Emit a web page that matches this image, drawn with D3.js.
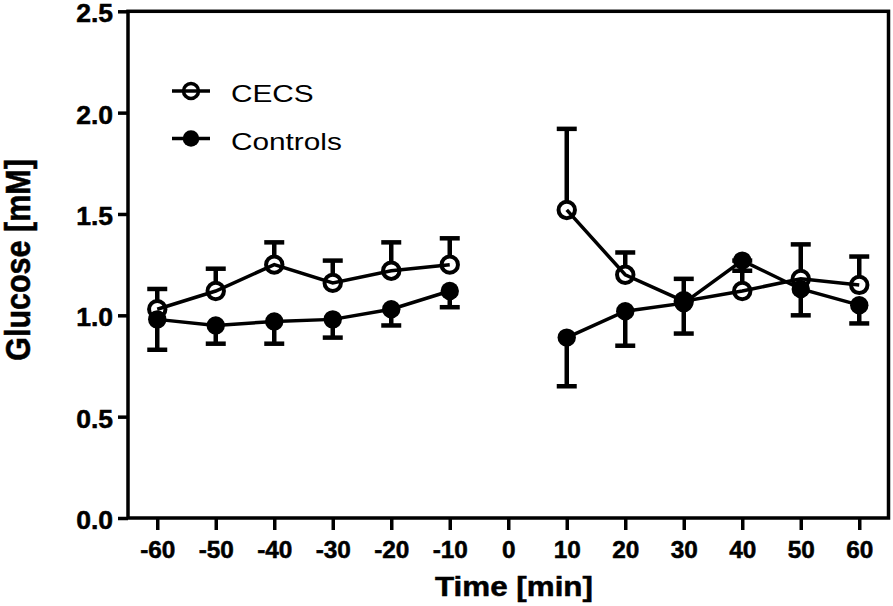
<!DOCTYPE html>
<html>
<head>
<meta charset="utf-8">
<script src="https://cdn.jsdelivr.net/npm/d3@7"></script>
<style>
	html, body { margin: 0; padding: 0; background: #fff; }
	svg { display: block; font-family: 'Liberation Sans', Arial, Helvetica, sans-serif; }
</style>
</head>
<body>
<svg id="chart" width="893" height="606"></svg>
<script>
// data
const times = [-60, -50, -40, -30, -20, -10, 10, 20, 30, 40, 50, 60];
const cecsMean = [1.03, 1.12, 1.25, 1.16, 1.22, 1.25, 1.52, 1.20, 1.07, 1.12, 1.18, 1.15];
const cecsErr = [0.10, 0.11, 0.11, 0.11, 0.14, 0.13, 0.40, 0.11, 0.11, 0.15, 0.17, 0.14]; // drawn upward
const controlsMean = [0.98, 0.95, 0.97, 0.98, 1.03, 1.12, 0.89, 1.02, 1.06, 1.27, 1.13, 1.05];
const controlsErr = [0.15, 0.09, 0.11, 0.09, 0.08, 0.08, 0.24, 0.17, 0.15, 0.05, 0.13, 0.09]; // drawn downward
const xTicks = [-60, -50, -40, -30, -20, -10, 0, 10, 20, 30, 40, 50, 60];
const yTicks = [0.0, 0.5, 1.0, 1.5, 2.0, 2.5];
const seriesNames = ['CECS', 'Controls'];

const svg = d3.select('#chart');
const plotLeft = 128, plotRight = 888.5, plotTop = 11.3, plotBottom = 518;

const xScale = d3.scaleLinear().domain([-65, 65]).range([plotLeft, plotRight]);
const yScale = d3.scaleLinear().domain([0, 2.5]).range([plotBottom, plotTop]);

// widen text the way the original font is drawn
function stretch(sel, k) {
	sel.each(function () {
		const w = this.getComputedTextLength();
		d3.select(this).attr('textLength', w * k).attr('lengthAdjust', 'spacingAndGlyphs');
	});
}

svg.append('rect').attr('width', 893).attr('height', 606).attr('fill', '#fff');

// frame
svg.append('rect')
	.attr('x', plotLeft).attr('y', plotTop)
	.attr('width', plotRight - plotLeft).attr('height', plotBottom - plotTop)
	.attr('fill', 'none').attr('stroke', '#000').attr('stroke-width', 3.5);

// x axis
const xAxis = d3.axisBottom(xScale).tickValues(xTicks).tickSize(12).tickPadding(12).tickFormat(d => String(d));
const gx = svg.append('g').attr('transform', `translate(0,${plotBottom})`).call(xAxis);
gx.select('.domain').remove();
gx.selectAll('.tick line').attr('stroke', '#000').attr('stroke-width', 3.5);
gx.selectAll('.tick text')
	.attr('fill', '#000')
	.attr('stroke', '#000').attr('stroke-width', 0.5)
	.style('font-size', '23px')
	.style('font-weight', 'bold')
	.attr('dy', '0.71em')
	.call(stretch, 1.06);

// y axis
const yAxis = d3.axisLeft(yScale).tickValues(yTicks).tickSize(10).tickPadding(5).tickFormat(d3.format('.1f'));
const gy = svg.append('g').attr('transform', `translate(${plotLeft},0)`).call(yAxis);
gy.select('.domain').remove();
gy.selectAll('.tick line').attr('stroke', '#000').attr('stroke-width', 3.5);
gy.selectAll('.tick text')
	.attr('fill', '#000')
	.attr('stroke', '#000').attr('stroke-width', 0.5)
	.style('font-size', '25.5px')
	.style('font-weight', 'bold')
	.attr('dy', '0.41em')
	.call(stretch, 1.04);

// axis titles
svg.append('text')
	.attr('x', 514).attr('y', 596)
	.attr('text-anchor', 'middle')
	.attr('stroke', '#000').attr('stroke-width', 0.5)
	.style('font-size', '27.5px').style('font-weight', 'bold')
	.text('Time [min]')
	.call(stretch, 1.14);

svg.append('text')
	.attr('transform', 'translate(30,260) scale(1.12,1) rotate(-90)')
	.attr('text-anchor', 'middle')
	.attr('stroke', '#000').attr('stroke-width', 0.5)
	.style('font-size', '30.5px').style('font-weight', 'bold')
	.text('Glucose [mM]');

// series
const cecs = times.map((t, i) => ({ t, v: cecsMean[i], e: cecsErr[i] }));
const controls = times.map((t, i) => ({ t, v: controlsMean[i], e: -controlsErr[i] }));

const line = d3.line().x(d => xScale(d.t)).y(d => yScale(d.v));
const r = 8.2;

function drawSeries(data, filled) {
	const g = svg.append('g');
	// before and after time 0 are separate segments
	d3.groups(data, d => d.t < 0).forEach(([, seg]) => {
		g.append('path').datum(seg)
			.attr('d', line)
			.attr('fill', 'none').attr('stroke', '#000').attr('stroke-width', 3.5);
	});
	const eb = g.selectAll('.err').data(data).join('g');
	eb.append('line')
		.attr('x1', d => xScale(d.t)).attr('x2', d => xScale(d.t))
		.attr('y1', d => yScale(d.v) + (d.e > 0 ? -r : r))
		.attr('y2', d => yScale(d.v + d.e))
		.attr('stroke', '#000').attr('stroke-width', 4.5);
	eb.append('line')
		.attr('x1', d => xScale(d.t) - 10).attr('x2', d => xScale(d.t) + 10)
		.attr('y1', d => yScale(d.v + d.e)).attr('y2', d => yScale(d.v + d.e))
		.attr('stroke', '#000').attr('stroke-width', 4.5);
	g.selectAll('circle').data(data).join('circle')
		.attr('cx', d => xScale(d.t)).attr('cy', d => yScale(d.v))
		.attr('r', filled ? 9.2 : r)
		.attr('fill', filled ? '#000' : 'none')
		.attr('stroke', filled ? 'none' : '#000')
		.attr('stroke-width', 4);
}

drawSeries(cecs, false);
drawSeries(controls, true);

// legend
const legend = svg.append('g').attr('transform', 'translate(172,91)');
seriesNames.forEach((name, i) => {
	const row = legend.append('g').attr('transform', `translate(0,${i * 47.5})`);
	row.append('line').attr('x1', 0).attr('x2', 38).attr('stroke', '#000').attr('stroke-width', 3.5);
	row.append('circle').attr('cx', 19).attr('r', i === 0 ? 7.5 : 8.3)
		.attr('fill', i === 0 ? 'none' : '#000')
		.attr('stroke', i === 0 ? '#000' : 'none')
		.attr('stroke-width', 3.5);
	row.append('text')
		.attr('x', 59).attr('y', 11)
		.style('font-size', '24px')
		.text(name)
		.call(stretch, 1.24);
});
</script>
</body>
</html>
